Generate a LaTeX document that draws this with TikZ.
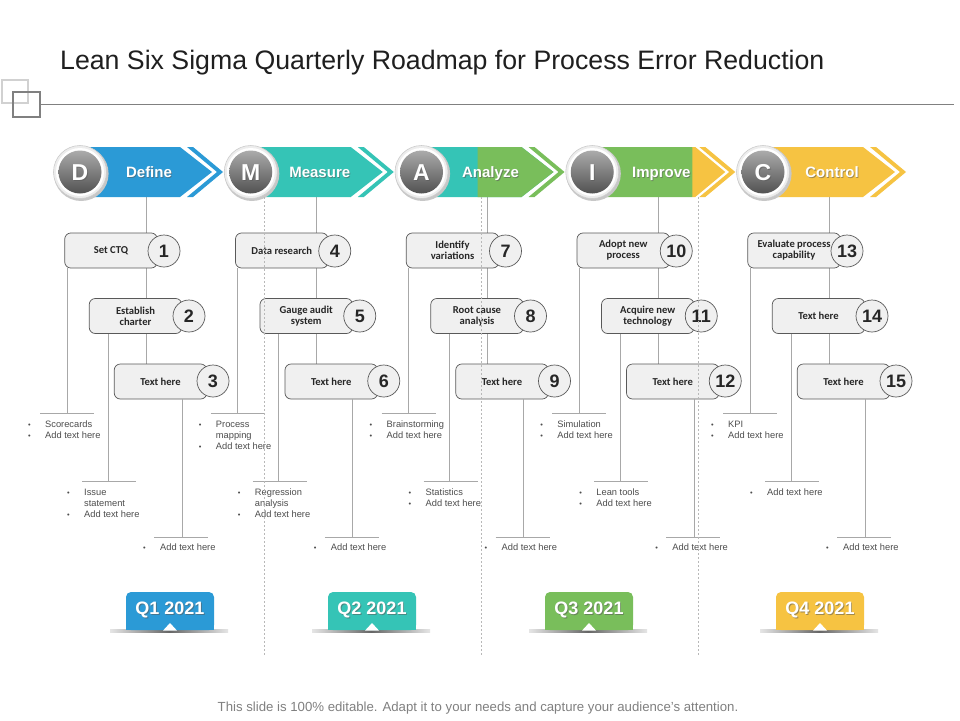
\documentclass[tikz,border=0pt]{standalone}
\usepackage{fontspec}
\usepackage{graphicx}
\setmainfont{Liberation Sans}
\newfontfamily\calib{Carlito}
\usetikzlibrary{calc}
\definecolor{cblue}{HTML}{2B9AD6}
\definecolor{cteal}{HTML}{35C4B6}
\definecolor{cgreen}{HTML}{79BE5B}
\definecolor{cyell}{HTML}{F6C342}
\definecolor{lineg}{HTML}{A8A8A8}
\definecolor{boxf}{HTML}{F0F0F0}
\definecolor{boxd}{HTML}{595959}
\definecolor{txtg}{HTML}{4D4D4D}
\pgfdeclarelayer{back}
\pgfdeclarelayer{bg}
\pgfsetlayers{back,bg,main}
\newcommand\bul{\makebox[17pt][l]{\raisebox{0.4pt}{\scalebox{0.8}{\textbullet}}}}
\newcommand\ind{\hspace*{17pt}}
\newcommand\shnode[4]{%
  \node[#1, text=black!65, opacity=.55] at ($#3+(0.9,0.9)$) {#4};
  \node[#1] (#2) at #3 {#4};}
\newcommand\chev[3]{%
  \fill[#2] (#1,147) -- (#1+100,147) -- (#1+132,172) -- (#1+100,197) -- (#1,197) -- cycle;
  \fill[#3] (#1+107,147) -- (#1+113,147) -- (#1+143,172) -- (#1+113,197) -- (#1+107,197) -- (#1+137,172) -- cycle;}
\newcommand\mcirc[3]{%
  \fill[black!22] (#1+1.2,173.6) circle (27.4);
  \draw[black!20, line width=0.6pt, fill=black!7] (#1,172) circle (26.5);
  \fill[white] (#1,172) circle (24);
  \shade[top color=black!33, bottom color=black!68] (#1,172) circle (21.5);
  \shnode{letter}{#3}{(#1,180.2)}{#2}}
\newcommand\qbadge[4]{%
  \shade[left color=black!10, right color=black!10, middle color=black!60] (#1-60,629.6) rectangle (#1+58,632.4);
  \fill[#2, rounded corners=5pt] (#1-44,592) rectangle (#1+44,630);
  \fill[#2] (#1-44,612) rectangle (#1+44,630);
  \fill[white] (#1-7,630.6) -- (#1,623) -- (#1+7,630.6) -- cycle;
  \shnode{qlbl}{#4}{(#1,614.5)}{#3}}
\begin{document}
\begin{tikzpicture}[x=1pt,y=-1pt,
  conn/.style={draw=lineg, line width=0.75pt},
  dashl/.style={draw=black!28, line width=0.6pt, dash pattern=on 2pt off 2pt},
  box/.style={draw=boxd, fill=boxf, line width=0.7pt, rounded corners=6pt,
    minimum width=92.5pt, minimum height=35pt, inner sep=0pt, align=center,
    font=\calib\bfseries\fontsize{10.6}{11}\selectfont, text=black!85},
  num/.style={circle, draw=boxd, fill=boxf, line width=0.7pt, minimum size=32pt,
    inner sep=0pt, font=\bfseries\fontsize{18}{18}\selectfont, text=black!85},
  blist/.style={anchor=north west, inner sep=0pt, align=left,
    font=\fontsize{9.3}{11}\selectfont, text=txtg},
  lbl/.style={anchor=base, font=\bfseries\fontsize{15}{15}\selectfont, text=white, inner sep=0pt},
  letter/.style={anchor=base, font=\bfseries\fontsize{23}{23}\selectfont, text=white, inner sep=0pt},
  qlbl/.style={anchor=base, font=\bfseries\fontsize{18}{18}\selectfont, text=white, inner sep=0pt}]
\useasboundingbox (0,0) rectangle (960,720);
\begin{pgfonlayer}{back}
\fill[white] (0,0) rectangle (960,720);
\end{pgfonlayer}

% title area
\draw[black!18, line width=1.6pt] (2,80) rectangle (28,103);
\draw[black!50, line width=1.3pt] (13,92) rectangle (40,117);
\coordinate (ruleL) at (40,104);
\coordinate (ruleR) at (954,104);
\draw[black!50, line width=0.8pt] (ruleL) -- (ruleR);
\node[anchor=base west, inner sep=0pt, font=\fontsize{26.7}{30}\selectfont, text=black!88] (title) at (60,69)
  {Lean Six Sigma Quarterly Roadmap for Process Error Reduction};

% chevrons
\chev{80}{cblue}{cblue}
\chev{250.75}{cteal}{cteal}
\chev{421.5}{cteal}{cgreen}
\fill[cgreen] (421.5+56,147) -- (421.5+100,147) -- (421.5+132,172) -- (421.5+100,197) -- (421.5+56,197) -- cycle;
\chev{592.25}{cgreen}{cyell}
\fill[cyell] (592.25+100,147) -- (592.25+103,147) -- (592.25+133,172) -- (592.25+103,197) -- (592.25+100,197) -- cycle;
\chev{763}{cyell}{cyell}

\mcirc{80}{D}{cD}
\mcirc{250.75}{M}{cM}
\mcirc{421.5}{A}{cA}
\mcirc{592.25}{I}{cI}
\mcirc{763}{C}{cC}

\shnode{lbl}{lD}{(149,177.5)}{Define}
\shnode{lbl}{lM}{(319.75,177.5)}{Measure}
\shnode{lbl}{lA}{(490.5,177.5)}{Analyze}
\shnode{lbl}{lI}{(661.25,177.5)}{Improve}
\shnode{lbl}{lC}{(832,177.5)}{Control}

% columns
\foreach \i/\ta/\tb/\tc/\la/\lb in {
 0/{Set CTQ}/{Establish\\charter}/{Text here}/{\bul Scorecards\\\bul Add text here}/{\bul Issue\\\ind statement\\\bul Add text here},
 1/{Data research}/{Gauge audit\\system}/{Text here}/{\bul Process\\\ind mapping\\\bul Add text here}/{\bul Regression\\\ind analysis\\\bul Add text here},
 2/{Identify\\variations}/{Root cause\\analysis}/{Text here}/{\bul Brainstorming\\\bul Add text here}/{\bul Statistics\\\bul Add text here},
 3/{Adopt new\\process}/{Acquire new\\technology}/{Text here}/{\bul Simulation\\\bul Add text here}/{\bul Lean tools\\\bul Add text here},
 4/{Evaluate process\\capability}/{Text here}/{Text here}/{\bul KPI\\\bul Add text here}/{\bul Add text here}}{
  \pgfmathsetmacro\ox{\i*170.75}
  \pgfmathtruncatemacro\na{3*\i+1}
  \pgfmathtruncatemacro\nb{3*\i+2}
  \pgfmathtruncatemacro\nc{3*\i+3}
  \coordinate (top\i) at (\ox+146,197);
  \node[box] (b\na) at (\ox+111,250.5) {\ta};
  \node[box] (b\nb) at (\ox+135.5,316) {\tb};
  \node[box] (b\nc) at (\ox+160.5,381.5) {\tc};
  \node[num] (n\na) at (\ox+164,251) {\na};
  \node[num] (n\nb) at (\ox+189,316) {\nb};
  \node[num] (n\nc) at (\ox+213,381) {\nc};
  \coordinate (va\i) at (\ox+67,413);
  \coordinate (vb\i) at (\ox+108,481);
  \coordinate (vc\i) at (\ox+182,537);
  \coordinate (hal\i) at (\ox+40,413);  \coordinate (har\i) at (\ox+94,413);
  \coordinate (hbl\i) at (\ox+82,481);  \coordinate (hbr\i) at (\ox+136,481);
  \coordinate (hcl\i) at (\ox+154,537); \coordinate (hcr\i) at (\ox+208,537);
  \begin{pgfonlayer}{bg}
    \draw[conn] (top\i) -- (top\i |- b\nc.north);
  \end{pgfonlayer}
  \draw[conn] (va\i |- b\na.south) -- (va\i);
  \draw[conn] (vb\i |- b\nb.south) -- (vb\i);
  \draw[conn] (vc\i |- b\nc.south) -- (vc\i);
  \draw[conn] (hal\i) -- (har\i);
  \draw[conn] (hbl\i) -- (hbr\i);
  \draw[conn] (hcl\i) -- (hcr\i);
  \node[blist] (la\i) at (\ox+28,420.8) {\la};
  \node[blist] (lb\i) at (\ox+67,488.8) {\lb};
  \node[blist] (lc\i) at (\ox+143,543.8) {\bul Add text here};
}

% dashed separators
\coordinate (d1t) at (264,197); \coordinate (d1b) at (264,655);
\coordinate (d2t) at (481,197); \coordinate (d2b) at (481,655);
\coordinate (d3t) at (698,197); \coordinate (d3b) at (698,655);
\draw[dashl] (d1t) -- (d1b);
\draw[dashl] (d2t) -- (d2b);
\draw[dashl] (d3t) -- (d3b);

% quarters
\qbadge{170}{cblue}{Q1 2021}{q1}
\qbadge{372}{cteal}{Q2 2021}{q2}
\qbadge{589}{cgreen}{Q3 2021}{q3}
\qbadge{820}{cyell}{Q4 2021}{q4}

\node[anchor=base, inner sep=0pt, font=\fontsize{13.2}{15}\selectfont, text=black!50] (foot) at (478,711.5)
  {This slide is 100\% editable. Adapt it to your needs and capture your audience's attention.};
\end{tikzpicture}
\end{document}
